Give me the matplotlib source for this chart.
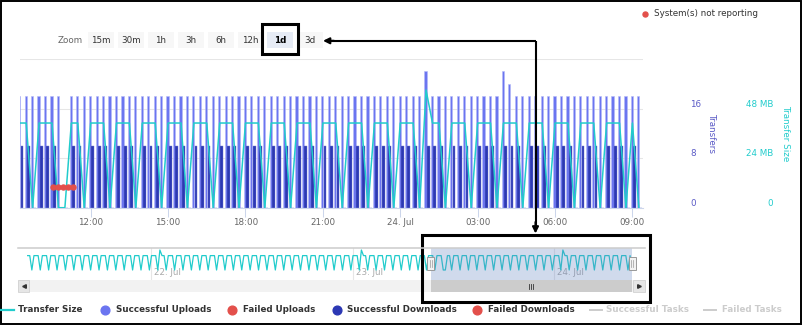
import matplotlib
matplotlib.use("Agg")
import matplotlib.pyplot as plt
import matplotlib.transforms as mtransforms
from matplotlib.patches import Rectangle
import numpy as np

plt.rcParams['font.family'] = ['DejaVu Sans']

# ---------------------------------------------------------------------------
# Data: 15-minute slots, time in hours since 23 Jul 00:00
# ---------------------------------------------------------------------------
first_slot_hour = 9.25          # 23 Jul 09:15
slot_hours = 0.25

# Transfer size (MB) per slot, 23 Jul 09:15 .. 24 Jul 09:15
transfer_size_mb = [
    41, 41, 0,            # 09
    41, 41, 41, 0,        # 10
    0, 41, 41, 0,         # 11
    41, 41, 41, 0,        # 12
    41, 41, 41, 0,        # 13
    41, 41, 41, 0,        # 14
    41, 41, 41, 0,        # 15
    41, 41, 41, 0,        # 16
    41, 41, 41, 0,        # 17
    41, 41, 41, 0,        # 18
    41, 41, 41, 0,        # 19
    41, 41, 41, 0,        # 20
    41, 41, 41, 0,        # 21
    41, 41, 41, 0,        # 22
    41, 41, 41, 0,        # 23
    41, 41, 41, 0,        # 00 (24 Jul)
    57, 41, 41, 0,        # 01
    41, 41, 41, 0,        # 02
    41, 41, 41, 0,        # 03
    41, 41, 41, 0,        # 04
    41, 41, 41, 0,        # 05
    41, 41, 41, 0,        # 06
    41, 41, 41, 0,        # 07
    41, 41, 41, 0,        # 08
    41, 0,                # 09
]

successful_uploads = [
    18, 18, 18,           # 09
    18, 18, 18, 18,       # 10
    0, 18, 18, 18,        # 11
    18, 18, 18, 18,       # 12
    18, 18, 18, 18,       # 13
    18, 18, 18, 18,       # 14
    18, 18, 18, 18,       # 15
    18, 18, 18, 18,       # 16
    18, 18, 18, 18,       # 17
    18, 18, 18, 18,       # 18
    18, 18, 18, 18,       # 19
    18, 18, 18, 18,       # 20
    18, 18, 18, 18,       # 21
    18, 18, 18, 18,       # 22
    18, 18, 18, 18,       # 23
    18, 18, 18, 18,       # 00 (24 Jul)
    22, 18, 18, 18,       # 01
    18, 18, 18, 18,       # 02
    18, 18, 18, 18,       # 03
    22, 20, 18, 18,       # 04
    18, 18, 18, 18,       # 05
    18, 18, 18, 18,       # 06
    18, 18, 18, 18,       # 07
    18, 18, 18, 18,       # 08
    18, 18,               # 09
]

successful_downloads = [
    10, 10, 0,            # 09
    10, 10, 10, 0,        # 10
    0, 10, 10, 0,         # 11
    10, 10, 10, 0,        # 12
    10, 10, 10, 0,        # 13
    10, 10, 10, 0,        # 14
    10, 10, 10, 0,        # 15
    10, 10, 10, 0,        # 16
    10, 10, 10, 0,        # 17
    10, 10, 10, 0,        # 18
    10, 10, 10, 0,        # 19
    10, 10, 10, 0,        # 20
    10, 10, 10, 0,        # 21
    10, 10, 10, 0,        # 22
    10, 10, 10, 0,        # 23
    10, 10, 10, 0,        # 00 (24 Jul)
    10, 10, 10, 0,        # 01
    10, 10, 10, 0,        # 02
    10, 10, 10, 0,        # 03
    10, 10, 10, 0,        # 04
    10, 10, 10, 0,        # 05
    10, 10, 10, 0,        # 06
    10, 10, 10, 0,        # 07
    10, 10, 10, 0,        # 08
    10, 0,                # 09
]

# Systems not reporting (hour, level on the Transfers axis)
not_reporting_hours = [10.53, 10.73, 10.92, 11.11, 11.30]
not_reporting_level = [3.4, 3.4, 3.4, 3.4, 3.4]

# Earlier transfer sizes for the navigator, 21 Jul 09:15 .. 23 Jul 09:00
history_first_hour = -38.75
history_size_mb = [
    41, 41, 0,                                                  # 21 Jul 09
    41, 41, 41, 0,  41, 41, 41, 0,  41, 41, 41, 0,  41, 41, 41, 0,   # 10-13
    41, 41, 41, 0,  41, 41, 41, 0,  41, 41, 41, 0,  41, 41, 41, 0,   # 14-17
    41, 41, 41, 0,  41, 41, 41, 0,  41, 41, 41, 0,  41, 41, 41, 0,   # 18-21
    41, 41, 41, 0,  41, 41, 41, 0,                                   # 22-23
    41, 41, 41, 0,  57, 41, 41, 0,  41, 41, 41, 0,  41, 41, 41, 0,   # 22 Jul 00-03
    41, 41, 41, 0,  41, 41, 41, 0,  41, 41, 41, 0,  41, 41, 41, 0,   # 04-07
    41, 41, 41, 0,  41, 41, 41, 0,  41, 41, 41, 0,  41, 41, 41, 0,   # 08-11
    41, 41, 41, 0,  41, 41, 41, 0,  41, 41, 41, 0,  41, 41, 41, 0,   # 12-15
    41, 41, 41, 0,  41, 41, 41, 0,  41, 41, 41, 0,  41, 41, 41, 0,   # 16-19
    41, 41, 41, 0,  41, 41, 41, 0,  41, 41, 41, 0,  41, 41, 41, 0,   # 20-23
    41, 41, 41, 0,  57, 41, 41, 0,  41, 41, 41, 0,  41, 41, 41, 0,   # 23 Jul 00-03
    41, 41, 41, 0,  41, 41, 41, 0,  41, 41, 41, 0,  41, 41, 41, 0,   # 04-07
    41, 41, 41, 0,                                                   # 08
    41,                                                              # 09:00
]

x_tick_hours = [12, 15, 18, 21, 24, 27, 30, 33]
x_tick_labels = ['12:00', '15:00', '18:00', '21:00', '24. Jul', '03:00', '06:00', '09:00']
nav_tick_hours = [-24, 0, 24]
nav_tick_labels = ['22. Jul', '23. Jul', '24. Jul']
transfer_ticks = [0, 8, 16]
size_ticks = [0, 24, 48]
size_tick_labels = ['0', '24 MB', '48 MB']
zoom_buttons = ['15m', '30m', '1h', '3h', '6h', '12h', '1d', '3d']
selected_zoom = '1d'

# ---------------------------------------------------------------------------
# Styling
# ---------------------------------------------------------------------------
TEAL = '#21cccc'
UPLOAD = '#6b75f0'
DOWNLOAD = '#2c38b4'
RED = '#e3504b'
TRANSFERS_COL = '#5a5ac6'
AXIS_COL = '#ccd6eb'
GRID_COL = '#e6e6e6'
LABEL_COL = '#666666'
FS = 6.3

W, H = 802, 325
fig = plt.figure(figsize=(W / 100, H / 100), dpi=100)
fig.patch.set_facecolor('white')


def frac(x0, y0, x1, y1):
    """Pixel box (top-left origin) -> figure fraction rect."""
    return [x0 / W, 1 - y1 / H, (x1 - x0) / W, (y1 - y0) / H]


# ---------------------------------------------------------------------------
# Main chart
# ---------------------------------------------------------------------------
times = first_slot_hour + slot_hours * np.arange(len(transfer_size_mb))

ax = fig.add_axes(frac(20, 59, 643, 207.7))
ax.set_xlim(9.26, 33.41)
ax.set_ylim(0, 24)

# twin axes for the size line and the not-reporting markers
ax2 = ax.twinx()
ax2.set_ylim(0, 72)
ax2.axis('off')
ax3 = ax.twinx()
ax3.set_ylim(0, 24)
ax3.axis('off')

ax.bar(times - 0.02, successful_uploads, width=0.085, color=UPLOAD,
       edgecolor='#b5baf7', linewidth=0.4, zorder=2)
ax.bar(times + 0.085, successful_downloads, width=0.11, color=DOWNLOAD,
       edgecolor='#6f78d0', linewidth=0.3, zorder=2)

ax.set_yticks([0, 8, 16, 24])
ax.grid(axis='y', color=GRID_COL, linewidth=0.75, zorder=0)
ax.set_axisbelow(True)
ax.tick_params(axis='y', left=False, right=False, labelleft=False, labelright=False)
ax.set_xticks(x_tick_hours)
ax.set_xticklabels(x_tick_labels)
ax.tick_params(axis='x', direction='out', length=6.3, width=0.75,
               color=AXIS_COL, labelcolor=LABEL_COL, labelsize=FS, pad=1)
for s in ('top', 'left', 'right'):
    ax.spines[s].set_visible(False)
ax.spines['bottom'].set_color(AXIS_COL)
ax.spines['bottom'].set_linewidth(0.8)

# right-hand Transfers labels
lab_shift = mtransforms.ScaledTranslation(0, 4.5 / 100, fig.dpi_scale_trans)
tr_left = mtransforms.blended_transform_factory(ax.transAxes, ax.transData) + lab_shift
for v in transfer_ticks:
    ax.text(1 + 47 / 623, v, str(v), transform=tr_left, ha='left', va='center',
            fontsize=FS, color=TRANSFERS_COL, clip_on=False)

# Transfer size line on the MB axis
ax2.plot(times, transfer_size_mb, color=TEAL, linewidth=1.1, zorder=3)
tr_size = mtransforms.blended_transform_factory(ax.transAxes, ax2.transData) + lab_shift
for v, lab in zip(size_ticks, size_tick_labels):
    ax2.text(1 + 130 / 623, v, lab, transform=tr_size, ha='right', va='center',
             fontsize=FS, color=TEAL, clip_on=False)

# Systems not reporting markers
ax3.plot(not_reporting_hours, not_reporting_level, color=RED, linewidth=2,
         marker='o', markersize=3.6, zorder=4)

fig.text(711.5 / W, 1 - 133 / H, 'Transfers', rotation=270, ha='center',
         va='center', fontsize=FS, color=TRANSFERS_COL)
fig.text(786 / W, 1 - 133 / H, 'Transfer Size', rotation=270, ha='center',
         va='center', fontsize=FS, color=TEAL)

# ---------------------------------------------------------------------------
# Navigator
# ---------------------------------------------------------------------------
nav = fig.add_axes(frac(18, 248, 645, 280))
nav_times = np.concatenate([history_first_hour + slot_hours * np.arange(len(history_size_mb)),
                            times])
nav_sizes = list(history_size_mb) + list(transfer_size_mb)
nav.plot(nav_times, nav_sizes, color=TEAL, linewidth=0.9, zorder=2)
nav.set_xlim(-39.9, 34.78)
nav.set_ylim(-28.5, 62.7)
for s in nav.spines.values():
    s.set_visible(False)
nav.set_xticks(nav_tick_hours)
nav.set_yticks([])
nav.grid(axis='x', color=GRID_COL, linewidth=0.8, zorder=0)
nav.tick_params(axis='x', bottom=False, labelbottom=False)
nav_lab_tr = mtransforms.blended_transform_factory(nav.transData, nav.transAxes) + \
    mtransforms.ScaledTranslation(3 / 100, 0, fig.dpi_scale_trans)
for h, lab in zip(nav_tick_hours, nav_tick_labels):
    nav.text(h, 0.22, lab, transform=nav_lab_tr, ha='left', va='center',
             fontsize=FS, color='#aaaaaa', zorder=1)
nav.axvspan(times[0], times[-1], color='#6685c2', alpha=0.3, linewidth=0, zorder=3)

# ---------------------------------------------------------------------------
# Overlay in pixel coordinates: buttons, scrollbar, legend, callouts
# ---------------------------------------------------------------------------
ov = fig.add_axes([0, 0, 1, 1], zorder=20)
ov.set_xlim(0, W)
ov.set_ylim(H, 0)
ov.axis('off')

# range selector
ov.text(58, 40.5, 'Zoom', ha='left', va='center', fontsize=FS, color=LABEL_COL)
btn_x = [88, 118, 148, 178, 208, 237.5, 267, 297]
for bx, lab in zip(btn_x, zoom_buttons):
    sel = lab == selected_zoom
    ov.add_patch(Rectangle((bx, 32), 26, 16, facecolor='#e6ebf5' if sel else '#f7f7f7',
                           edgecolor='none'))
    ov.text(bx + 13, 40.5, lab, ha='center', va='center', fontsize=FS,
            color='#000000' if sel else '#333333', fontweight='bold' if sel else 'normal')

# "System(s) not reporting"
ov.plot([645], [14], 'o', color=RED, markersize=3.6)
ov.text(654, 14, 'System(s) not reporting', ha='left', va='center',
        fontsize=FS, color='#333333')

# navigator frame + scrollbar
ov.plot([18, 645], [247.6, 247.6], color='#cccccc', linewidth=1.1)
x0 = nav.transData.transform((times[0], 0))[0]
x1 = nav.transData.transform((times[-1], 0))[0]
ov.add_patch(Rectangle((18, 280), 627, 12, facecolor='#f2f2f2', edgecolor='none'))
ov.add_patch(Rectangle((18, 280), 11, 12, facecolor='#e6e6e6', edgecolor='#cccccc', linewidth=0.5))
ov.add_patch(Rectangle((633, 280), 12, 12, facecolor='#e6e6e6', edgecolor='#cccccc', linewidth=0.5))
ov.plot([23.5], [286], marker='<', color='#333333', markersize=2.6)
ov.plot([639], [286], marker='>', color='#333333', markersize=2.6)
ov.add_patch(Rectangle((x0, 280), x1 - x0, 12, facecolor='#cccccc', edgecolor='none'))
xc = (x0 + x1) / 2
for dx in (-2, 0, 2):
    ov.plot([xc + dx, xc + dx], [283.5, 288.5], color='#333333', linewidth=0.6)
for hx in (x0, x1):
    ov.add_patch(Rectangle((hx - 3.5, 257), 7, 13, facecolor='#f2f2f2',
                           edgecolor='#999999', linewidth=0.7))
    for dx in (-1, 1):
        ov.plot([hx + dx, hx + dx], [260, 267], color='#999999', linewidth=0.5)

# legend
legend_y = 310
ov.plot([-2, 14], [legend_y, legend_y], color=TEAL, linewidth=1.6)
ov.text(18, legend_y, 'Transfer Size', ha='left', va='center', fontsize=FS,
        fontweight='bold', color='#333333')
for cx, tx, col, lab in [(105, 116, UPLOAD, 'Successful Uploads'),
                         (231.7, 242.7, RED, 'Failed Uploads'),
                         (336.7, 347, DOWNLOAD, 'Successful Downloads'),
                         (476.7, 487.7, RED, 'Failed Downloads')]:
    ov.plot([cx], [legend_y], 'o', color=col, markersize=6.3)
    ov.text(tx, legend_y, lab, ha='left', va='center', fontsize=FS,
            fontweight='bold', color='#333333')
for lx0, lx1, tx, lab in [(590, 602, 606, 'Successful Tasks'),
                          (704, 716, 721.7, 'Failed Tasks')]:
    ov.plot([lx0, lx1], [legend_y, legend_y], color='#cccccc', linewidth=1.4)
    ov.text(tx, legend_y, lab, ha='left', va='center', fontsize=FS,
            fontweight='bold', color='#cccccc')

# callout boxes and connecting arrow
ov.add_patch(Rectangle((262, 23.5), 36, 30.5, fill=False, edgecolor='black', linewidth=2.2))
ov.add_patch(Rectangle((421.5, 234.5), 228, 67, fill=False, edgecolor='black', linewidth=2.2))
ov.plot([535.5, 535.5], [40.8, 226], color='black', linewidth=1.5, solid_capstyle='butt')
ov.plot([330, 535.5], [40.8, 40.8], color='black', linewidth=1.5, solid_capstyle='butt')
ov.annotate('', xy=(535.5, 233.5), xytext=(535.5, 222),
            arrowprops=dict(arrowstyle='-|>', color='black', lw=1.5,
                            mutation_scale=9, shrinkA=0, shrinkB=0))
ov.annotate('', xy=(323, 40.8), xytext=(334, 40.8),
            arrowprops=dict(arrowstyle='-|>', color='black', lw=1.5,
                            mutation_scale=9, shrinkA=0, shrinkB=0))

# outer frame
ov.add_patch(Rectangle((0.8, 0.8), W - 1.6, H - 1.6, fill=False, edgecolor='black',
                       linewidth=1.4))

fig.savefig('out.png', dpi=100, facecolor='white')
